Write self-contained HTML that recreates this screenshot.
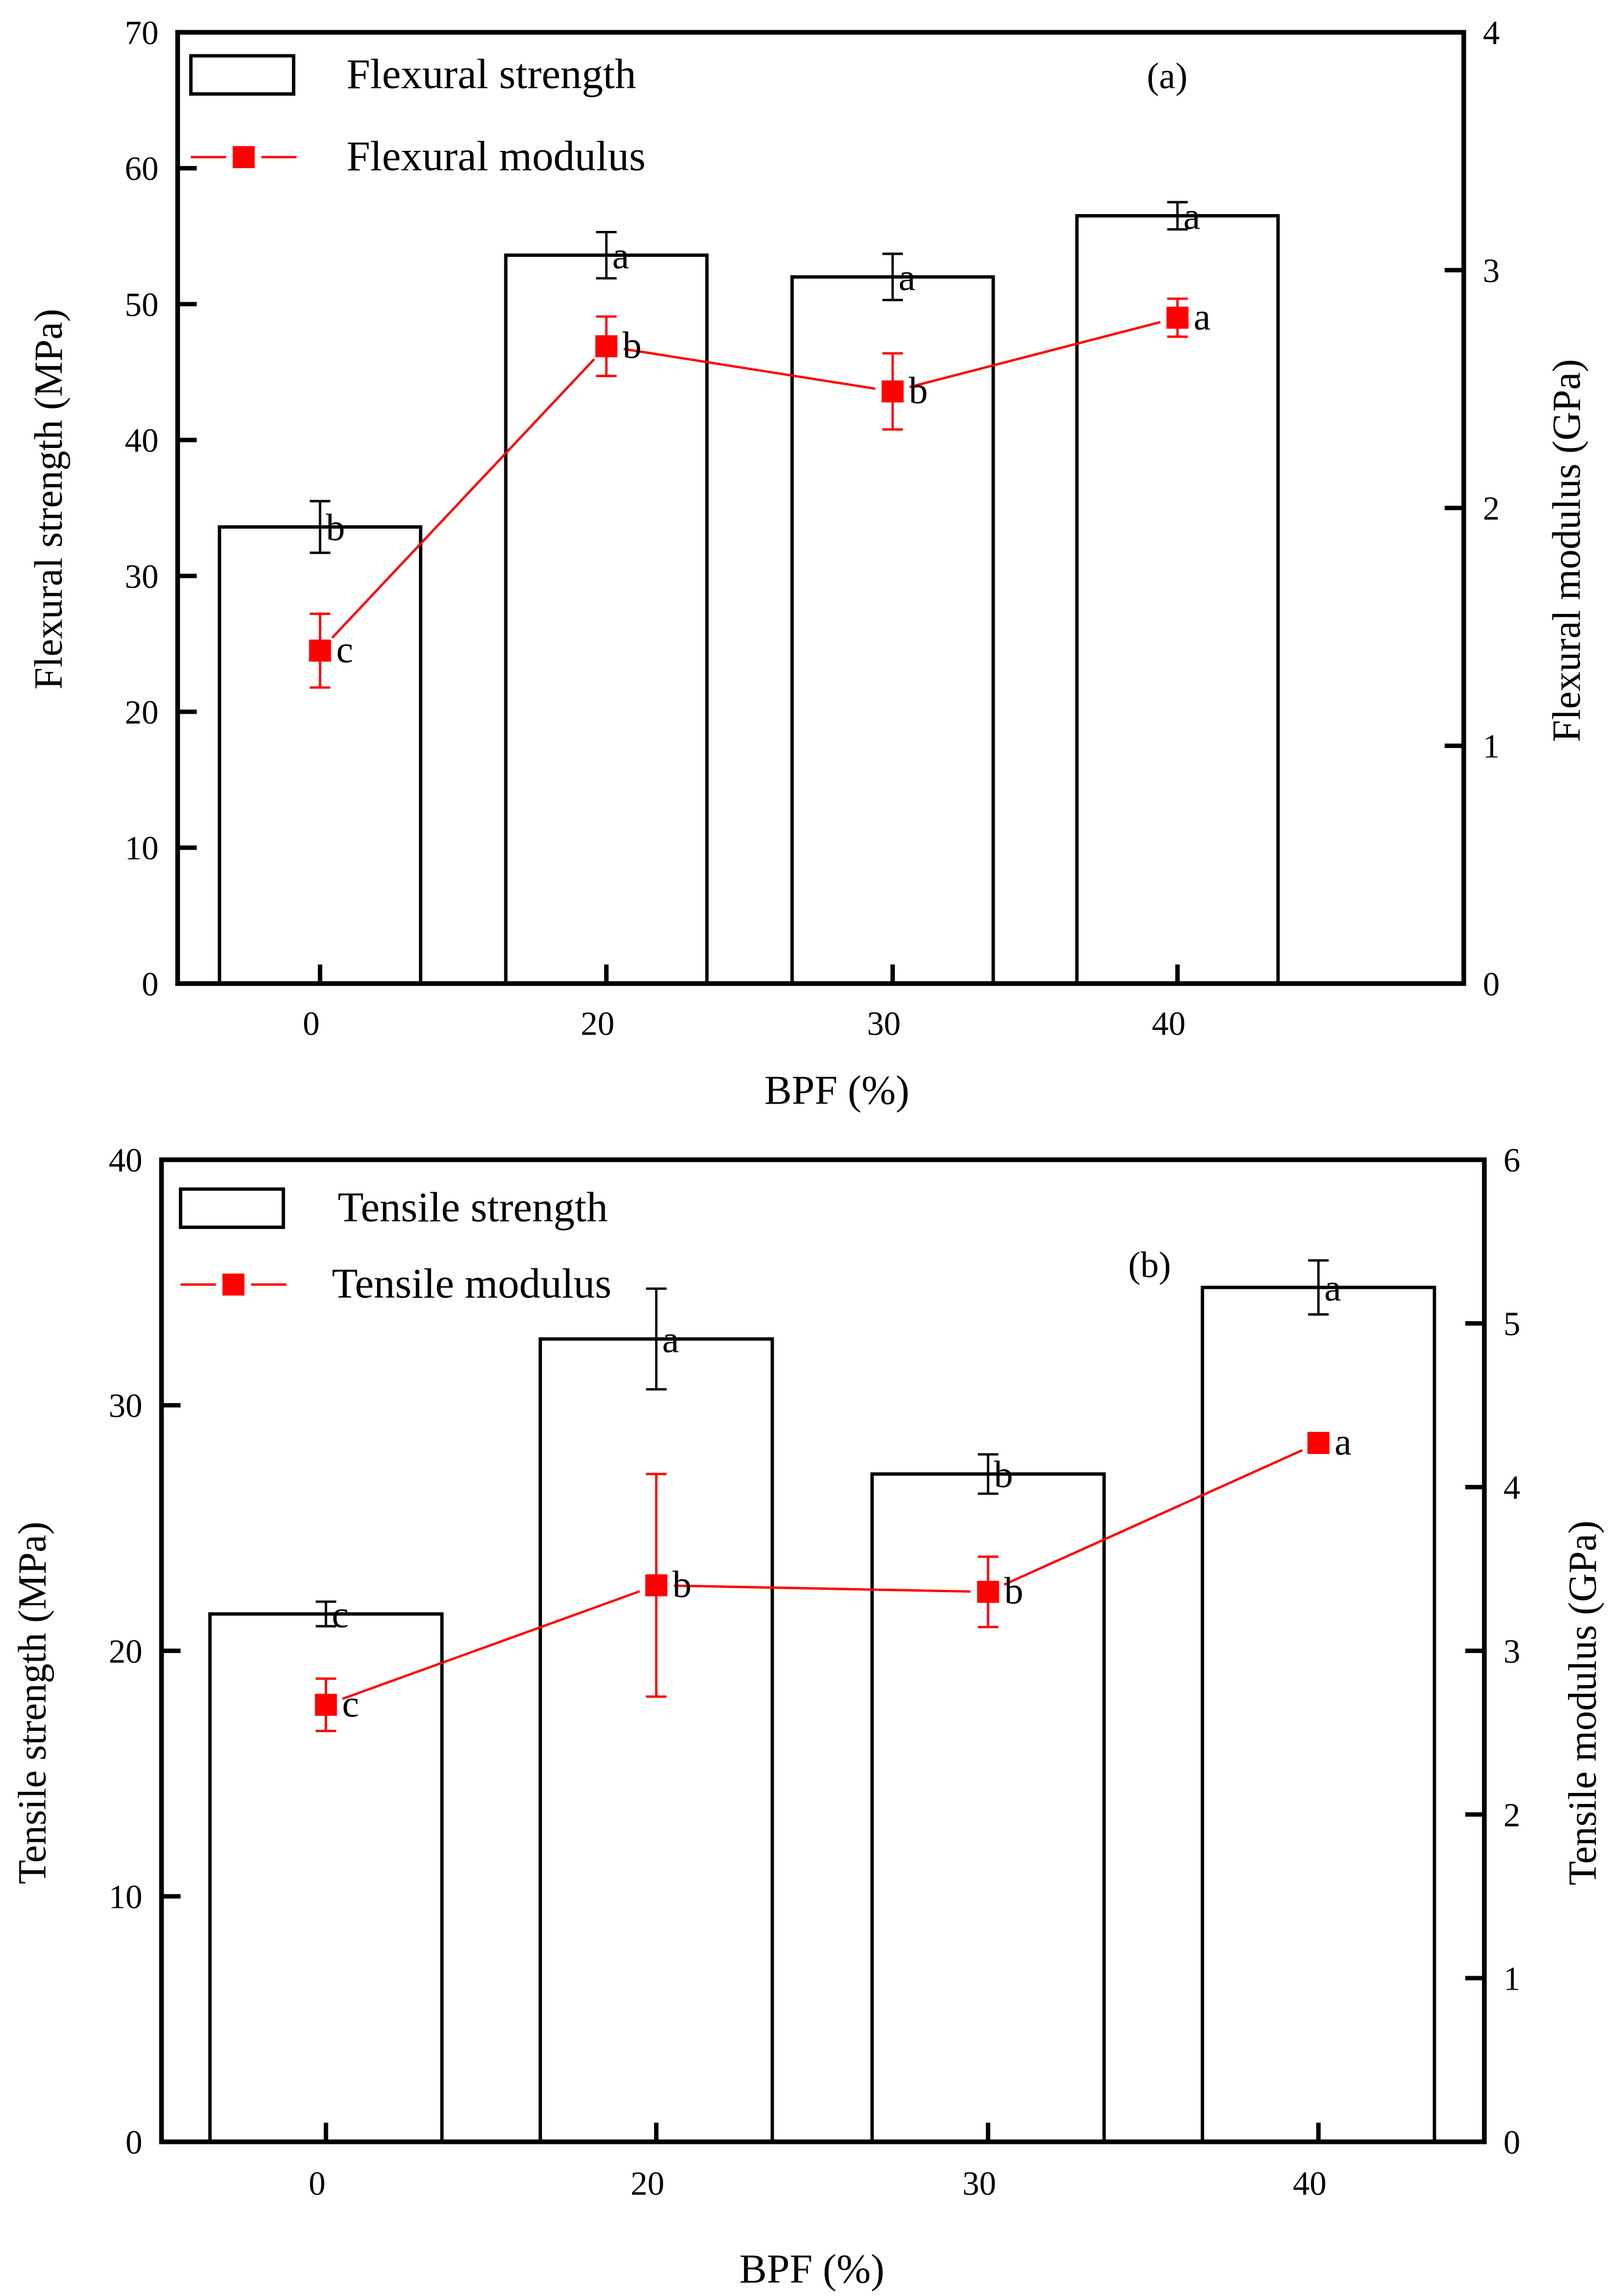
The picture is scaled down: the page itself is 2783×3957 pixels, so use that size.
<!DOCTYPE html>
<html><head><meta charset="utf-8"><style>
html,body{margin:0;padding:0;background:#fff;}
svg{display:block;}
text{font-family:"Liberation Serif",serif;fill:#000;}
</style></head><body>
<svg id="fig" width="2783" height="3957" viewBox="0 0 1100 1564" xmlns="http://www.w3.org/2000/svg"></svg>
<script>
// ---- Panel (a) data ----
const catsA = ["0","20","30","40"];
const flexStrength = [33.6, 53.6, 52.0, 56.5];
const flexStrengthErr = [1.9, 1.7, 1.7, 1.0];
const flexStrengthLetters = ["b","a","a","a"];
const flexModulus = [1.40, 2.68, 2.49, 2.80];
const flexModulusErr = [0.155, 0.125, 0.16, 0.08];
const flexModulusLetters = ["c","b","b","a"];
const leftTicksA = [0,10,20,30,40,50,60,70];
const rightTicksA = [0,1,2,3,4];
// ---- Panel (b) data ----
const catsB = ["0","20","30","40"];
const tensStrength = [21.5, 32.7, 27.2, 34.8];
const tensStrengthErr = [0.5, 2.05, 0.8, 1.1];
const tensStrengthLetters = ["c","a","b","a"];
const tensModulus = [2.67, 3.40, 3.36, 4.27];
const tensModulusErr = [0.16, 0.68, 0.215, 0.06];
const tensModulusLetters = ["c","b","b","a"];
const leftTicksB = [0,10,20,30,40];
const rightTicksB = [0,1,2,3,4,5,6];

const NS="http://www.w3.org/2000/svg";
const svg=document.getElementById('fig');
function mk(tag,attrs,parent,txt){const e=document.createElementNS(NS,tag);for(const k in attrs)e.setAttribute(k,attrs[k]);if(txt!==undefined)e.textContent=txt;(parent||svg).appendChild(e);return e;}

function panel(cfg){
  const g=mk('g',{});
  
  
  const {L,R,T,B,lmax,rmax,xs,bw}=cfg;
  const yl=v=>B-(v/lmax)*(B-T);
  const yr=v=>B-(v/rmax)*(B-T);
  cfg.cats.forEach((c,i)=>{
    const x=xs[i], y=yl(cfg.bars[i]);
    const r=mk('rect',{x:x-bw/2,y:y,width:bw,height:B-y,fill:'none',stroke:'#000','stroke-width':2.3},g);
    
    
    const e=cfg.barErr[i];
    const eb=mk('path',{d:`M${x},${yl(cfg.bars[i]+e)}V${yl(cfg.bars[i]-e)}M${x-7},${yl(cfg.bars[i]+e)}h14M${x-7},${yl(cfg.bars[i]-e)}h14`,stroke:'#000','stroke-width':1.6,fill:'none'},g);
    
    
    const t=mk('text',{x:x+4,y:y+9,'font-size':26},g,cfg.barLetters[i]);
    
    
  });
  for(let i=0;i<cfg.cats.length-1;i++){
    const x1=xs[i],y1=yr(cfg.line[i]),x2=xs[i+1],y2=yr(cfg.line[i+1]);
    const dx=x2-x1,dy=y2-y1,len=Math.hypot(dx,dy),ux=dx/len,uy=dy/len,gap=12;
    const l=mk('line',{x1:x1+ux*gap,y1:y1+uy*gap,x2:x2-ux*gap,y2:y2-uy*gap,stroke:'#f00','stroke-width':1.6},g);
    
    
  }
  cfg.cats.forEach((c,i)=>{
    const x=xs[i],v=cfg.line[i],e=cfg.lineErr[i];
    const eb=mk('path',{d:`M${x},${yr(v+e)}V${yr(v-e)}M${x-7},${yr(v+e)}h14M${x-7},${yr(v-e)}h14`,stroke:'#f00','stroke-width':1.6,fill:'none'},g);
    
    
    const m=mk('rect',{x:x-7.5,y:yr(v)-7.5,width:15,height:15,fill:'#f00'},g);
    
    
    const t=mk('text',{x:x+11,y:yr(v)+8,'font-size':26},g,cfg.lineLetters[i]);
    
    
  });
  const f=mk('rect',{x:L,y:T,width:R-L,height:B-T,fill:'none',stroke:'#000','stroke-width':3.2},g);
  
  
  cfg.lt.forEach(v=>{
    const y=yl(v);
    if(v>0&&v<lmax){const tk=mk('line',{x1:L,x2:L+13,y1:y,y2:y,stroke:'#000','stroke-width':3},g);}
    const t=mk('text',{x:L-13,y:y+8,'font-size':23,'text-anchor':'end'},g,String(v));
    
    
  });
  cfg.rt.forEach(v=>{
    const y=yr(v);
    if(v>0&&v<rmax){const tk=mk('line',{x1:R,x2:R-13,y1:y,y2:y,stroke:'#000','stroke-width':3},g);}
    const t=mk('text',{x:R+13,y:y+8,'font-size':23},g,String(v));
    
    
  });
  cfg.cats.forEach((c,i)=>{
    const tk=mk('line',{x1:xs[i],x2:xs[i],y1:B,y2:B-13,stroke:'#000','stroke-width':3},g);
    
    
    const t=mk('text',{x:xs[i]-6,y:B+cfg.xlabDy,'font-size':23,'text-anchor':'middle'},g,c);
    
    
  });
  let t=mk('text',{x:0,y:0,'font-size':27,'text-anchor':'middle',transform:`translate(${cfg.ltx},${cfg.lty}) rotate(-90)`},g,cfg.ltitle);
  
  t=mk('text',{x:0,y:0,'font-size':27,'text-anchor':'middle',transform:`translate(${cfg.rtx},${cfg.rty}) rotate(-90)`},g,cfg.rtitle);
  
  t=mk('text',{x:cfg.xtx,y:cfg.xty,'font-size':28,'text-anchor':'middle'},g,'BPF (%)');
  
  const lg=cfg.leg;
  let r=mk('rect',{x:lg.x,y:lg.y1-13,width:70,height:26,fill:'none',stroke:'#000','stroke-width':2.3},g);
  
  t=mk('text',{x:lg.tx1,y:lg.y1+9,'font-size':29},g,cfg.leg1);
  
  let l=mk('path',{d:`M${lg.x},${lg.y2}h24M${lg.x+48},${lg.y2}h24`,stroke:'#f00','stroke-width':1.6},g);
  
  r=mk('rect',{x:lg.x+36-7.5,y:lg.y2-7.5,width:15,height:15,fill:'#f00'},g);
  
  t=mk('text',{x:lg.tx2,y:lg.y2+9,'font-size':29},g,cfg.leg2);
  
  t=mk('text',{x:cfg.tag[0],y:cfg.tag[1],'font-size':25,'text-anchor':'middle'},g,cfg.tagText);
  
}

panel({name:'panel-a-flexural',L:121,R:997,T:22,B:670,lmax:70,rmax:4,xs:[218,413,608,802],bw:137,
  cats:catsA,bars:flexStrength,barErr:flexStrengthErr,barLetters:flexStrengthLetters,
  line:flexModulus,lineErr:flexModulusErr,lineLetters:flexModulusLetters,lt:leftTicksA,rt:rightTicksA,
  xlabDy:35,ltitle:'Flexural strength  (MPa)',ltx:42,lty:340,rtitle:'Flexural modulus  (GPa)',rtx:1076,rty:375,
  xtx:570,xty:752,leg:{x:130,y1:51,y2:107,tx1:236,tx2:236},leg1:'Flexural strength',leg2:'Flexural modulus',
  tag:[795,60],tagText:'(a)'});
panel({name:'panel-b-tensile',L:110,R:1011,T:790,B:1459,lmax:40,rmax:6,xs:[222,447,673,898],bw:158,
  cats:catsB,bars:tensStrength,barErr:tensStrengthErr,barLetters:tensStrengthLetters,
  line:tensModulus,lineErr:tensModulusErr,lineLetters:tensModulusLetters,lt:leftTicksB,rt:rightTicksB,
  xlabDy:36,ltitle:'Tensile strength (MPa)',ltx:31,lty:1160,rtitle:'Tensile modulus  (GPa)',rtx:1087,rty:1160,
  xtx:553,xty:1555,leg:{x:123,y1:823,y2:875,tx1:230,tx2:226},leg1:'Tensile strength',leg2:'Tensile modulus',
  tag:[783,870],tagText:'(b)'});
</script>
</body></html>
